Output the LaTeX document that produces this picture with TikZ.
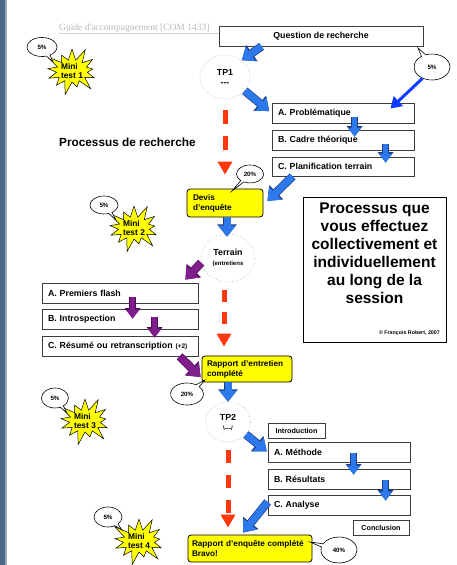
\documentclass[tikz,border=0pt]{standalone}
\usepackage{fontspec}
\setmainfont{Liberation Sans}
\newfontfamily\hdrfont{Liberation Serif}
\usetikzlibrary{arrows.meta,shapes.callouts,shapes.symbols,shapes.geometric}
\definecolor{fatblue}{RGB}{45,120,235}
\definecolor{brightblue}{RGB}{15,60,255}
\definecolor{outblue}{RGB}{30,60,130}
\definecolor{purp}{RGB}{128,30,140}
\definecolor{outpurp}{RGB}{80,10,90}
\definecolor{redA}{RGB}{255,55,10}
\definecolor{yel}{RGB}{255,255,0}
\definecolor{barcol}{RGB}{75,105,135}
\definecolor{boxline}{RGB}{60,60,60}
\newcommand\fA{\fontsize{8.8}{10}\selectfont\bfseries}
\newcommand\fY{\fontsize{8.2}{9.8}\selectfont\bfseries}
\newcommand\fI{\fontsize{7.2}{8}\selectfont\bfseries}
\newcommand\fS{\fontsize{6.2}{7}\selectfont\bfseries}
\newcommand\fM{\fontsize{8.4}{9.5}\selectfont\bfseries}
\newcommand\fBig{\fontsize{15.5}{18}\selectfont\bfseries}
\newcommand\fT{\fontsize{11.8}{13}\selectfont\bfseries}
\begin{document}
\begin{tikzpicture}[x=1pt,y=-1pt,
  box/.style={draw=boxline, line width=0.8pt, fill=white, inner sep=0pt, minimum height=20pt, font=\fA},
  lbox/.style={box, minimum width=#1, text width=#1-12pt, align=left},
  ybox/.style={draw=black, line width=0.8pt, fill=yel, rounded corners=3pt, inner sep=0pt, align=left, font=\fY, execute at begin node={\hyphenpenalty=10000\relax}},
  circ/.style={ellipse, draw=gray!55, dotted, line width=0.7pt, inner sep=0pt, align=center},
  bubble/.style={ellipse callout, draw=black, line width=0.6pt, fill=white, inner sep=0pt, font=\fS},
  star/.style={starburst, starburst points=13, starburst point height=15pt, draw=black, line width=0.5pt, fill=yel, inner sep=0pt, minimum width=60pt, minimum height=50pt, align=left, font=\fM},
  fat/.style={line width=7pt, color=fatblue, -{Triangle[width=17pt,length=11pt]},
     preaction={draw=outblue, line width=8.4pt, -{Triangle[width=19pt,length=12.4pt]}}},
  smallfat/.style={line width=5pt, color=fatblue, -{Triangle[width=13pt,length=9pt]},
     preaction={draw=outblue, line width=6.4pt, -{Triangle[width=15pt,length=10.4pt]}}},
  pfat/.style={line width=7pt, color=purp, -{Triangle[width=17pt,length=11pt]},
     preaction={draw=outpurp, line width=8.4pt, -{Triangle[width=19pt,length=12.4pt]}}},
  psmall/.style={line width=5pt, color=purp, -{Triangle[width=13pt,length=9pt]},
     preaction={draw=outpurp, line width=6.4pt, -{Triangle[width=15pt,length=10.4pt]}}},
  bluethin/.style={line width=3pt, color=brightblue, -{Triangle[width=13pt,length=11pt]}},
  reddash/.style={line width=5pt, color=redA, -{Triangle[width=14pt,length=13pt]}}
]
\useasboundingbox (0,0) rectangle (457,565);
\fill[white] (0,0) rectangle (457,565);
\fill[barcol] (0,0) rectangle (6,565);
\fill[barcol!55!white] (5,0) rectangle (6.5,565);

% header
\node[font=\hdrfont\fontsize{9.5}{11}\selectfont, text=gray!55, anchor=base west, inner sep=0pt] (hdr) at (59,30) {Guide d'accompagnement [COM 1433]};

% top
\node[box, minimum width=204pt] (q) at (321,36) {Question de recherche};
\draw[gray!35, line width=0.8pt] ([yshift=-3pt]hdr.base west) -- ([yshift=-3pt]hdr.base west -| q.west);
\node[circ, minimum width=50pt, minimum height=44pt] (tp1) at (225,77) {\fA TP1\\[-2pt]\fA{-}{-}{-}};
\node[lbox=142pt] (pa) at (343,113) {A. Problématique};
\node[lbox=142pt] (pb) at (343,140) {B. Cadre théorique};
\node[lbox=142pt, minimum height=19pt] (pc) at (343,166.5) {C. Planification terrain};
\node[bubble, minimum width=36pt, minimum height=26pt, callout absolute pointer={(418,48)}] (c5a) at (432,67) {5\%};
\node[font=\fT, anchor=west, inner sep=0pt] (title) at (59,142) {Processus de recherche};

\node[star] (st1) at (72,71) {Mini\\test 1};
\node[bubble, minimum width=30pt, minimum height=19pt, callout absolute pointer={(53,62)}] (c5b) at (42,47) {5\%};

% devis
\node[ybox, minimum width=76pt, minimum height=28pt, text width=64pt] (devis) at (225,203) {Devis\\d'enquête};
\node[bubble, minimum width=27pt, minimum height=18pt, callout absolute pointer={(232,191)}] (c20a) at (250,174) {20\%};
\node[circ, minimum width=54pt, minimum height=48pt] (terrain) at (228,258) {\fA Terrain\\[-2pt]{\fontsize{6}{7}\selectfont\bfseries (entretiens}};

\node[star] (st2) at (134,228) {Mini\\test 2};
\node[bubble, minimum width=28pt, minimum height=18pt, callout absolute pointer={(116,220)}] (c5c) at (104,205) {5\%};

% big box
\node[draw=black, line width=0.8pt, minimum width=143pt, minimum height=145pt, inner sep=0pt] (big) at (374.5,269.5) {};
\node[font=\fBig, align=center, anchor=north, inner sep=0pt] (bigtxt) at (374.5,203) {Processus que\\vous effectuez\\collectivement et\\individuellement\\au long de la\\session};
\node[font=\fontsize{5.3}{6}\selectfont\bfseries, anchor=east, inner sep=0pt] (copy) at (440,333) {© François Robert, 2007};

% terrain branch
\node[lbox=156pt] (fa) at (120,293) {A. Premiers flash};
\node[lbox=156pt] (fb) at (120,319) {B. Introspection};
\node[lbox=156pt] (fc) at (120,346) {C. Résumé ou retranscription {\fontsize{6.5}{7}\selectfont\bfseries(+2)}};
\node[ybox, minimum width=90pt, minimum height=26pt, text width=80pt] (rent) at (247,369) {Rapport d'entretien\\complété};
\node[bubble, minimum width=33pt, minimum height=22pt, callout absolute pointer={(205,380)}] (c20b) at (187,394) {20\%};

\node[star] (st3) at (85,421) {Mini\\test 3};
\node[bubble, minimum width=27pt, minimum height=20pt, callout absolute pointer={(67,413)}] (c5d) at (55,398) {5\%};

% TP2
\node[circ, minimum width=45pt, minimum height=40pt] (tp2) at (228,422) {\fA TP2\\[-2pt]\fS\textbackslash{-}{-}{-}/};
\node[box, minimum width=57pt, minimum height=15pt, font=\fI] (intro) at (296.5,430.5) {Introduction};
\node[lbox=142pt] (ma) at (339,452) {A. Méthode};
\node[lbox=142pt] (mb) at (339,479) {B. Résultats};
\node[lbox=142pt] (mc) at (339,505) {C. Analyse};
\node[box, minimum width=56pt, minimum height=15pt, font=\fI] (concl) at (381,527.5) {Conclusion};
\node[ybox, minimum width=124pt, minimum height=27pt, text width=116pt] (renq) at (250,548.5) {Rapport d'enquête complété\\Bravo!};
\node[bubble, minimum width=36pt, minimum height=26pt, callout absolute pointer={(310,542)}] (c40) at (339,550) {40\%};

\node[star] (st4) at (139,541) {Mini\\test 4};
\node[bubble, minimum width=28pt, minimum height=20pt, callout absolute pointer={(122,530)}] (c5e) at (108,517) {5\%};

% connectors
\draw[fat] ([xshift=43pt]q.south west) -- (tp1.45);
\draw[fat, shorten >=3pt] (tp1.-35) -- (pa.west);
\draw[bluethin] (c5a.-130) -- ([xshift=-24pt,yshift=-6pt]pa.north east);
\draw[smallfat] ([xshift=83pt,yshift=6pt]pa.south west) -- ([xshift=83pt,yshift=-7pt]pb.north west);
\draw[smallfat] ([xshift=114pt,yshift=6pt]pb.south west) -- ([xshift=114pt,yshift=-6pt]pc.north west);
\draw[fat] ([xshift=21pt]pc.south west) -- ([xshift=4pt,yshift=2pt]devis.east);
\draw[fat] ([xshift=2pt]devis.south) -- ([xshift=2pt,yshift=-3pt]devis.south |- terrain.north);
\draw[reddash, dash pattern=on 14pt off 12pt, shorten <=11pt, shorten >=14pt] (tp1.south) -- (devis.north);

\draw[pfat] (terrain.190) -- ([xshift=-13pt,yshift=3pt]fa.north east);
\draw[psmall] ([xshift=91pt,yshift=6pt]fa.south west) -- ([xshift=91pt,yshift=-10pt]fb.north west);
\draw[psmall] ([xshift=113pt,yshift=12pt]fb.south west) -- ([xshift=113pt,yshift=-2pt]fc.north west);
\draw[pfat] ([xshift=138pt]fc.south west) -- ([xshift=-1pt,yshift=-8pt]rent.west);
\draw[reddash, dash pattern=on 12pt off 10pt, shorten <=8pt, shorten >=9pt] ([xshift=-4pt]terrain.south) -- ([xshift=-4pt]terrain.south |- rent.north);

\draw[fat] (tp2.north |- rent.south) -- (tp2.north);
\draw[fat, shorten >=1pt] (tp2.-35) -- (ma.west);
\draw[smallfat] ([xshift=86pt,yshift=9pt]ma.south west) -- ([xshift=86pt,yshift=-6pt]mb.north west);
\draw[smallfat] ([xshift=118pt,yshift=9pt]mb.south west) -- ([xshift=118pt,yshift=-6pt]mc.north west);
\draw[fat] ([yshift=3pt]mc.west) -- ([xshift=-7pt,yshift=2pt]renq.north);
\draw[reddash, dash pattern=on 13pt off 12pt, shorten <=8pt, shorten >=7pt] (tp2.south) -- (tp2.south |- renq.north);
\end{tikzpicture}
\end{document}
